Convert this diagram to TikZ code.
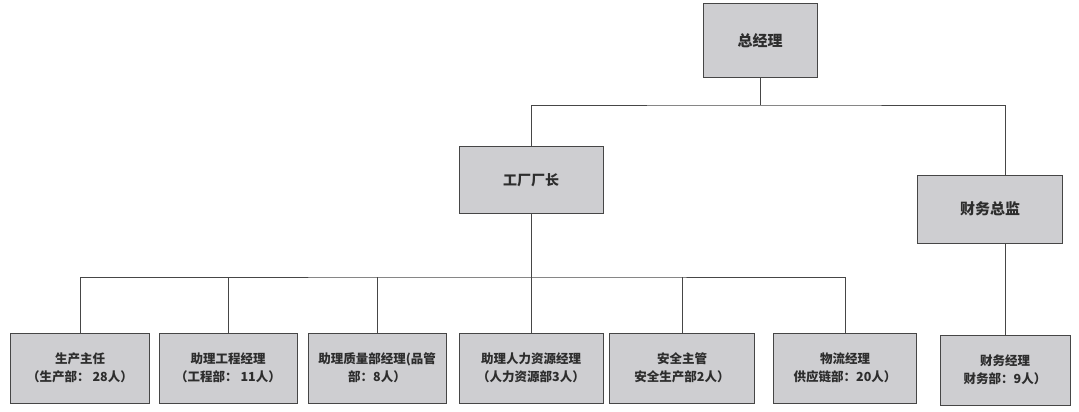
\documentclass[tikz,border=0pt]{standalone}
\usepackage{fontspec}
\newfontfamily\cjk{Noto Sans CJK SC}
\definecolor{boxgray}{RGB}{206,206,209}
\definecolor{linegray}{RGB}{70,70,70}
\definecolor{textgray}{RGB}{45,45,45}
\begin{document}
\begin{tikzpicture}[x=1pt,y=-1pt,
      post/.style={draw=linegray,fill=boxgray,line width=1pt,text=textgray,
        minimum width=#1,minimum height=70pt,inner sep=0pt,align=center,
        font=\cjk\bfseries\fontsize{12.5}{18}\selectfont},
      link/.style={draw=linegray,line width=0.8pt}]
      \useasboundingbox[fill=white] (0,0) rectangle (1079,412);
      % top level
      \node[post=114pt,minimum height=74pt,font=\cjk\bfseries\fontsize{15}{18}\selectfont] (gm) at (760,41) {总经理};
      \node[post=144pt,minimum height=67pt,font=\cjk\bfseries\fontsize{14}{18}\selectfont] (fm) at (531,180) {工厂厂长};
      \node[post=145pt,minimum height=68pt,font=\cjk\bfseries\fontsize{15}{18}\selectfont] (cfo) at (990,209) {财务总监};
      % departments
      \node[post=139pt] (p1) at (80,368) {生产主任\\（生产部： 28人）};
      \node[post=138pt] (p2) at (228,368) {助理工程经理\\（工程部： 11人）};
      \node[post=138pt] (p3) at (377,368) {助理质量部经理(品管\\部：8人）};
      \node[post=144pt] (p4) at (531,368) {助理人力资源经理\\（人力资源部3人）};
      \node[post=145pt] (p5) at (682,368) {安全主管\\安全生产部2人）};
      \node[post=143pt] (p6) at (845,368) {物流经理\\供应链部：20人）};
      \node[post=130pt] (p7) at (1005,370) {财务经理\\财务部：9人）};
      % connectors
      \coordinate (topbus) at (760,105);
      \coordinate (lowbus) at (531,277);
      \draw[link] (gm.south) -- (topbus);
      \draw[link] (fm.north) |- (topbus) -| (cfo.north -| p7.north);
      \draw[link] (cfo.south -| p7.north) -- (p7.north);
      \draw[link] (fm.south) -- (lowbus);
      \draw[link] (p1.north) |- (lowbus) -| (p6.north);
      \foreach \n in {p2,p3,p5}
        \draw[link] (\n.north) -- (\n.north |- lowbus);
      \draw[link] (lowbus) -- (p4.north);
\end{tikzpicture}
\end{document}
